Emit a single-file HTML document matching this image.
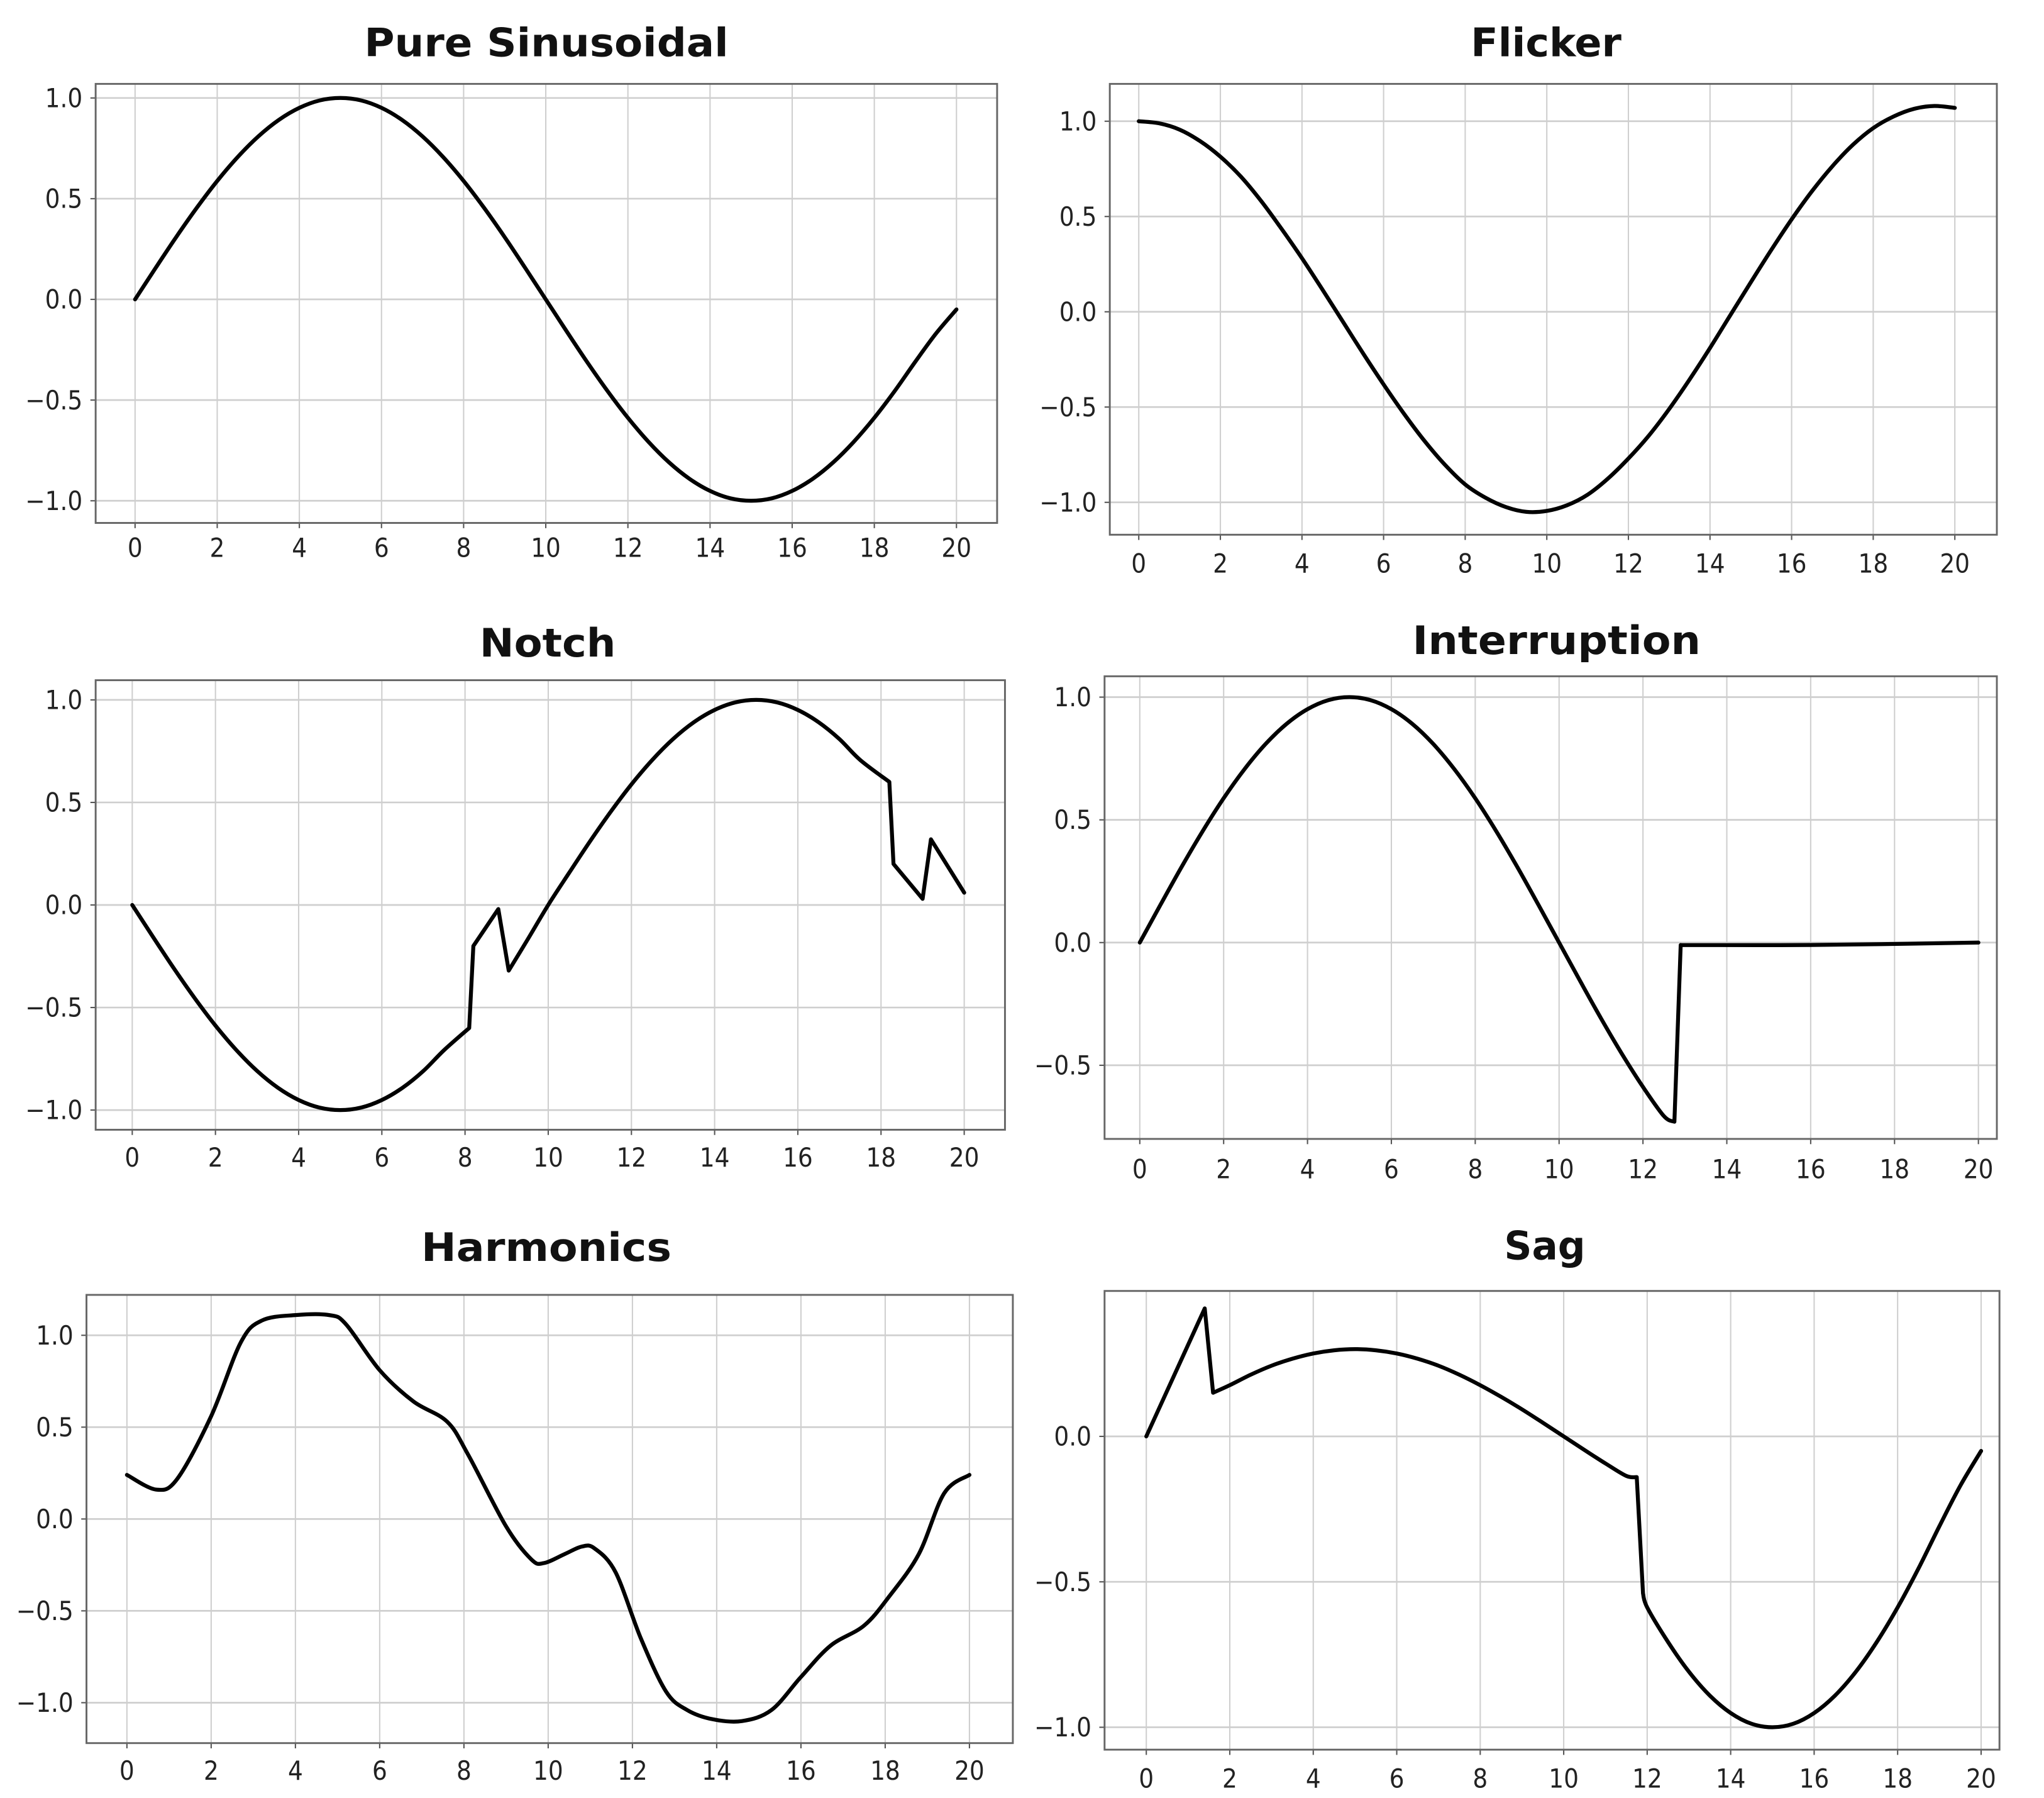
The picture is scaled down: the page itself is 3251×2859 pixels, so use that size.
<!DOCTYPE html>
<html><head><meta charset="utf-8"><style>
html,body{margin:0;padding:0;background:#fff;}
svg{display:block;}
text{font-family:"DejaVu Sans Condensed","DejaVu Sans","Liberation Sans",sans-serif;}
</style></head><body>
<svg id="fig" xmlns="http://www.w3.org/2000/svg" width="3251" height="2859" viewBox="0 0 3251 2859">
<rect width="3251" height="2859" fill="#fff"/>
<g id="root" transform="scale(2.084)"></g>
</svg>
<script>
// ---- data ----
const xTicks = [0,2,4,6,8,10,12,14,16,18,20];

const pureX = [0,0.5,1,1.5,2,2.5,3,3.5,4,4.5,5,5.5,6,6.5,7,7.5,8,8.5,9,9.5,10,10.5,11,11.5,12,12.5,13,13.5,14,14.5,15,15.5,16,16.5,17,17.5,18,18.5,19,19.5,20];
const pureY = [0,0.156,0.309,0.454,0.588,0.707,0.809,0.891,0.951,0.988,1,0.988,0.951,0.891,0.809,0.707,0.588,0.454,0.309,0.156,0,-0.156,-0.309,-0.454,-0.588,-0.707,-0.809,-0.891,-0.951,-0.988,-1,-0.988,-0.951,-0.891,-0.809,-0.707,-0.588,-0.454,-0.309,-0.17,-0.05];
const pureYTicks = [1.0,0.5,0.0,-0.5,-1.0];

const flickerX = [0,0.5,1,1.5,2,2.5,3,3.5,4,4.5,5,5.5,6,6.5,7,7.5,8,8.5,9,9.5,10,10.5,11,11.5,12,12.5,13,13.5,14,14.5,15,15.5,16,16.5,17,17.5,18,18.5,19,19.5,20];
const flickerY = [1.0,0.989,0.956,0.896,0.814,0.71,0.581,0.435,0.281,0.117,-0.051,-0.219,-0.381,-0.535,-0.677,-0.802,-0.906,-0.976,-1.025,-1.05,-1.045,-1.015,-0.96,-0.875,-0.77,-0.65,-0.51,-0.355,-0.19,-0.017,0.155,0.324,0.485,0.633,0.764,0.876,0.964,1.025,1.065,1.08,1.07];
const flickerYTicks = [1.0,0.5,0.0,-0.5,-1.0];

const notchX = [0,0.5,1,1.5,2,2.5,3,3.5,4,4.5,5,5.5,6,6.5,7,7.5,8.1,8.2,8.8,9.05,9.5,10,10.5,11,11.5,12,12.5,13,13.5,14,14.5,15,15.5,16,16.5,17,17.5,18.2,18.3,19.0,19.2,20];
const notchY = [0,-0.156,-0.309,-0.454,-0.588,-0.707,-0.809,-0.891,-0.951,-0.988,-1,-0.988,-0.951,-0.891,-0.809,-0.707,-0.6,-0.2,-0.02,-0.32,-0.17,0,0.156,0.309,0.454,0.588,0.707,0.809,0.891,0.951,0.988,1,0.988,0.951,0.891,0.809,0.707,0.6,0.2,0.03,0.32,0.06];
const notchYTicks = [1.0,0.5,0.0,-0.5,-1.0];

const interX = [0,0.5,1,1.5,2,2.5,3,3.5,4,4.5,5,5.5,6,6.5,7,7.5,8,8.5,9,9.5,10,10.5,11,11.5,12,12.5,12.75,12.9,16,20];
const interY = [0,0.156,0.309,0.454,0.588,0.707,0.809,0.891,0.951,0.988,1,0.988,0.951,0.891,0.809,0.707,0.588,0.454,0.309,0.156,0,-0.156,-0.309,-0.454,-0.588,-0.707,-0.73,-0.01,-0.01,0.0];
const interYTicks = [1.0,0.5,0.0,-0.5];

const harmX = [0,0.7,1.2,2.0,2.7,3.2,4.0,4.8,5.2,6.0,6.8,7.6,8.1,9.0,9.6,9.9,10.4,10.8,11.1,11.6,12.2,12.8,13.3,13.9,14.6,15.3,16.0,16.7,17.5,18.1,18.8,19.4,20];
const harmY = [0.24,0.16,0.22,0.56,0.96,1.08,1.11,1.11,1.06,0.81,0.64,0.53,0.35,-0.04,-0.22,-0.24,-0.19,-0.15,-0.16,-0.29,-0.65,-0.94,-1.04,-1.09,-1.1,-1.04,-0.86,-0.69,-0.58,-0.42,-0.19,0.14,0.24];
const harmYTicks = [1.0,0.5,0.0,-0.5,-1.0];

const sagX = [0,1.4,1.6,2,2.5,3,3.5,4,4.5,5,5.5,6,6.5,7,7.5,8,8.5,9,9.5,10,10.5,11,11.5,11.75,11.9,12,12.5,13,13.5,14,14.5,15,15.5,16,16.5,17,17.5,18,18.5,19,19.5,20];
const sagY = [0,0.44,0.15,0.176,0.212,0.243,0.267,0.285,0.296,0.3,0.296,0.285,0.267,0.243,0.212,0.176,0.136,0.093,0.047,0,-0.047,-0.093,-0.136,-0.14,-0.54,-0.588,-0.707,-0.809,-0.891,-0.951,-0.988,-1,-0.988,-0.951,-0.891,-0.809,-0.707,-0.588,-0.454,-0.309,-0.17,-0.05];
const sagYTicks = [0.0,-0.5,-1.0];

// ---- layout (display coords, scaled by 2.084) ----
const NS = "http://www.w3.org/2000/svg";
const root = document.getElementById('root');
function el(tag, attrs, parent){
  const e = document.createElementNS(NS, tag);
  for (const k in attrs) e.setAttribute(k, attrs[k]);
  (parent||root).appendChild(e);
  return e;
}
function fmt(v){ const s = Math.abs(v).toFixed(1); return (v<0?'\u2212':'')+s; }

function smoothPath(P){
  let d = 'M'+P[0][0]+','+P[0][1];
  if (P.length === 2) return d + ' L'+P[1][0]+','+P[1][1];
  for (let i=0;i<P.length-1;i++){
    const p0=P[Math.max(0,i-1)], p1=P[i], p2=P[i+1], p3=P[Math.min(P.length-1,i+2)];
    const c1=[p1[0]+(p2[0]-p0[0])/6, p1[1]+(p2[1]-p0[1])/6];
    const c2=[p2[0]-(p3[0]-p1[0])/6, p2[1]-(p3[1]-p1[1])/6];
    d += ' C'+c1[0]+','+c1[1]+' '+c2[0]+','+c2[1]+' '+p2[0]+','+p2[1];
  }
  return d;
}

function panel(cfg, xs, ys, yTicks){
  const g = el('g', {});
  
  
  const sx = v => cfg.L + (v - cfg.xmin)/(cfg.xmax - cfg.xmin)*(cfg.R - cfg.L);
  const sy = v => cfg.B - (v - cfg.ymin)/(cfg.ymax - cfg.ymin)*(cfg.B - cfg.T);
  for (const t of xTicks){
    const ln = el('line',{x1:sx(t),x2:sx(t),y1:cfg.T,y2:cfg.B,stroke:'#cfcfcf','stroke-width':1},g);
    
    
    const tk = el('line',{x1:sx(t),x2:sx(t),y1:cfg.B,y2:cfg.B+4,stroke:'#555','stroke-width':1},g);
    
    
    const tx = el('text',{x:sx(t),y:cfg.tickY+7,'text-anchor':'middle','font-size':20,fill:'#222'},g);
    tx.textContent = String(t);
    
    
  }
  for (const t of yTicks){
    const ln = el('line',{x1:cfg.L,x2:cfg.R,y1:sy(t),y2:sy(t),stroke:'#cfcfcf','stroke-width':1.3},g);
    
    
    const tk = el('line',{x1:cfg.L-4,x2:cfg.L,y1:sy(t),y2:sy(t),stroke:'#555','stroke-width':1},g);
    
    
    const tx = el('text',{x:cfg.L-10,y:sy(t)+7,'text-anchor':'end','font-size':20,fill:'#222'},g);
    tx.textContent = fmt(t);
    
    
  }
  const fr = el('rect',{x:cfg.L,y:cfg.T,width:cfg.R-cfg.L,height:cfg.B-cfg.T,fill:'none',stroke:'#666','stroke-width':1.4},g);
  
  
  // series: smooth segments, split at kink x-values
  const P = xs.map((x,i)=>[sx(x), sy(ys[i]), x]);
  const kinks = cfg.kinks || [];
  let segs = [[]];
  P.forEach((p,i)=>{
    segs[segs.length-1].push(p);
    if (i>0 && i<P.length-1 && kinks.some(k=>Math.abs(k-p[2])<1e-6)) segs.push([p]);
  });
  const d = segs.filter(s=>s.length>1).map(s=>smoothPath(s)).join(' ');
  const path = el('path',{d:d,fill:'none',stroke:'#000','stroke-width':3,'stroke-linejoin':'round','stroke-linecap':'round'},g);
  
  
  const ti = el('text',{x:cfg.titleX,y:cfg.titleY,'text-anchor':'middle','font-size':30,'font-weight':'bold',fill:'#111',textLength:cfg.titleW,lengthAdjust:'spacingAndGlyphs'},g);
  ti.textContent = cfg.title;
  
  
}

panel({name:'pure-sinusoidal',title:'Pure Sinusoidal',L:73,R:761,T:64,B:399,xmin:-0.96,xmax:20.99,ymin:-1.11,ymax:1.07,tickY:418,titleX:417,titleY:43,titleW:278}, pureX, pureY, pureYTicks);
panel({name:'flicker',title:'Flicker',L:847,R:1524,T:64,B:408,xmin:-0.71,xmax:21.03,ymin:-1.17,ymax:1.196,tickY:430,titleX:1180,titleY:43,titleW:115}, flickerX, flickerY, flickerYTicks);
panel({name:'notch',title:'Notch',L:73,R:767,T:519,B:862,xmin:-0.88,xmax:20.98,ymin:-1.096,ymax:1.096,tickY:883,titleX:418,titleY:501,titleW:104,kinks:[8.1,8.2,8.8,9.05,18.2,18.3,19.0,19.2]}, notchX, notchY, notchYTicks);
panel({name:'interruption',title:'Interruption',L:843,R:1524,T:516,B:869,xmin:-0.84,xmax:20.44,ymin:-0.80,ymax:1.085,tickY:892,titleX:1188,titleY:499,titleW:220,kinks:[12.75,12.9]}, interX, interY, interYTicks);
panel({name:'harmonics',title:'Harmonics',L:66,R:773,T:988,B:1330,xmin:-0.96,xmax:21.03,ymin:-1.22,ymax:1.22,tickY:1351,titleX:417,titleY:962,titleW:191}, harmX, harmY, harmYTicks);
panel({name:'sag',title:'Sag',L:843,R:1526,T:985,B:1335,xmin:-1.0,xmax:20.44,ymin:-1.077,ymax:0.5,tickY:1357,titleX:1179,titleY:961,titleW:62,kinks:[1.4,1.6,11.75,11.9]}, sagX, sagY, sagYTicks);
</script>
</body></html>
